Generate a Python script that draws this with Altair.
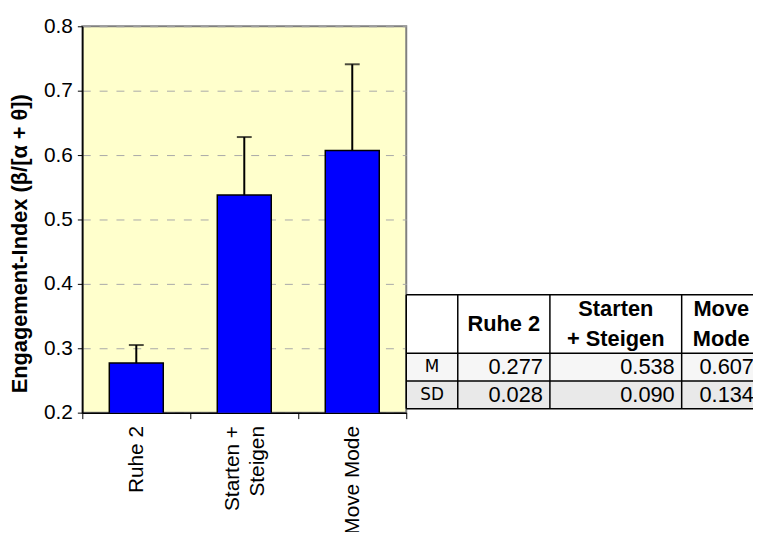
import altair as alt
import pandas as pd

# ---------------- data ----------------
categories = ["Ruhe 2", "Starten + Steigen", "Move Mode"]
means = [0.277, 0.538, 0.607]
sds = [0.028, 0.090, 0.134]
y_ticks = [0.2, 0.3, 0.4, 0.5, 0.6, 0.7, 0.8]

table_headers = [[], ["Ruhe 2"], ["Starten", "+ Steigen"], ["Move", "Mode"]]
table_row_labels = ["M", "SD"]
table_m = ["0.277", "0.538", "0.607"]
table_sd = ["0.028", "0.090", "0.134"]

# ---------------- layout (pixels) ----------------
PLOT_W, PLOT_H = 327, 390
COL_W = [52, 93, 133, 80]          # table column widths
ROW_H = [59, 28, 28]               # table row heights
TABLE_TOP = 271                    # table top, measured from plot top
HEAD_LH = 30                       # header line height
TW = sum(COL_W)
FONT = "Liberation Sans"

bars_df = pd.DataFrame({"cat": categories, "mean": means, "sd": sds})

# ---------------- bar chart ----------------
base = alt.Chart(bars_df).transform_calculate(
    upper="datum.mean + datum.sd"
).encode(
    x=alt.X(
        "cat:N",
        sort=categories,
        scale=alt.Scale(paddingInner=0, paddingOuter=0),
        axis=alt.Axis(
            title=None,
            labelAngle=-90,
            labelAlign="right",
            labelBaseline="middle",
            labelFont=FONT,
            labelFontSize=21,
            labelColor="black",
            labelPadding=7,
            labelLineHeight=25,
            labelExpr="datum.value == 'Starten + Steigen' ? ['Starten +', 'Steigen'] : datum.value",
            labelOffset={"condition": {"test": "datum.value == 'Starten + Steigen'", "value": -12}, "value": 0},
            tickBand="extent",
            tickSize=6,
            tickColor="black",
            domainColor="black",
            domainWidth=1.5,
        ),
    )
)

yscale = alt.Scale(domain=[0.2, 0.8], nice=False, zero=False)

bars = base.mark_bar(
    width=alt.RelativeBandSize(0.5), fill="#0000FF", stroke="black", strokeWidth=1.5,
    clip=True,
).encode(
    y=alt.Y(
        "mean:Q",
        scale=yscale,
        axis=alt.Axis(
            values=y_ticks,
            format=".1f",
            title="Engagement-Index (β/[α + θ])",
            titleFont=FONT,
            titleFontSize=22,
            titleFontWeight="bold",
            titleColor="black",
            titleBaseline="alphabetic",
            titleX=-56,
            titleY=219,
            labelFont=FONT,
            labelFontSize=21,
            labelColor="black",
            labelPadding=5,
            tickSize=5,
            tickColor="black",
            domainColor="black",
            domainWidth=1.5,
            grid=True,
            gridColor="#A8A8A8",
            gridDash=[8, 9],
            gridWidth=1,
        ),
    )
)

err = base.mark_rule(color="black", strokeWidth=2).encode(
    y=alt.Y("mean:Q", scale=yscale), y2="upper:Q"
)
cap = base.mark_tick(color="black", thickness=2, size=15).encode(
    y=alt.Y("upper:Q", scale=yscale)
)

bar_chart = alt.layer(bars, err, cap)

# ---------------- table ----------------
col_edges = [0]
for w in COL_W:
    col_edges.append(col_edges[-1] + w)
row_edges = [TABLE_TOP]
for h in ROW_H:
    row_edges.append(row_edges[-1] + h)

row_fills = ["#FFFFFF", "#F6F6F6", "#E9E9E9"]
cells = []
for r in range(3):
    for c in range(4):
        cells.append({
            "x0": col_edges[c], "x1": col_edges[c + 1],
            "y0": row_edges[r], "y1": row_edges[r + 1],
            "fill": row_fills[r],
        })
cells_df = pd.DataFrame(cells)

lines = []
for yv in row_edges:
    lines.append({"x0": 0, "x1": TW, "y0": yv, "y1": yv})
for xv in col_edges[:-1]:
    lines.append({"x0": xv, "x1": xv, "y0": row_edges[0], "y1": row_edges[-1]})
lines_df = pd.DataFrame(lines)

head = []
hc = (row_edges[0] + row_edges[1]) / 2
for c, parts in enumerate(table_headers):
    n = len(parts)
    for i, p in enumerate(parts):
        head.append({
            "x": (col_edges[c] + col_edges[c + 1]) / 2,
            "y": hc + (i - (n - 1) / 2) * HEAD_LH,
            "t": p,
        })
header_df = pd.DataFrame(head)

label_df = pd.DataFrame({
    "x": [(col_edges[0] + col_edges[1]) / 2] * 2,
    "y": [(row_edges[1] + row_edges[2]) / 2, (row_edges[2] + row_edges[3]) / 2],
    "t": table_row_labels,
})
vals = []
for r, rowvals in enumerate([table_m, table_sd]):
    for c, v in enumerate(rowvals):
        vals.append({
            "x": col_edges[c + 2],
            "y": (row_edges[r + 1] + row_edges[r + 2]) / 2,
            "t": v,
        })
vals_df = pd.DataFrame(vals)

tx = alt.Scale(domain=[0, TW], range=[PLOT_W, PLOT_W + TW], nice=False, zero=False)
ty = alt.Scale(domain=[0, PLOT_H], range=[0, PLOT_H], nice=False, zero=False)

t_cells = alt.Chart(cells_df).mark_rect(strokeWidth=0).encode(
    x=alt.X("x0:Q", scale=tx, axis=None), x2="x1:Q",
    y=alt.Y("y0:Q", scale=ty, axis=None), y2="y1:Q",
    fill=alt.Fill("fill:N", scale=None),
)
t_lines = alt.Chart(lines_df).mark_rule(color="black", strokeWidth=1.5).encode(
    x=alt.X("x0:Q", scale=tx, axis=None), x2="x1:Q",
    y=alt.Y("y0:Q", scale=ty, axis=None), y2="y1:Q",
)
t_head = alt.Chart(header_df).mark_text(
    font=FONT, fontSize=22, fontWeight="bold", color="black",
    baseline="middle", align="center",
).encode(
    x=alt.X("x:Q", scale=tx, axis=None),
    y=alt.Y("y:Q", scale=ty, axis=None),
    text="t:N",
)
t_lab = alt.Chart(label_df).mark_text(
    font="DejaVu Sans", fontSize=17, color="black", baseline="middle", align="center",
).encode(
    x=alt.X("x:Q", scale=tx, axis=None),
    y=alt.Y("y:Q", scale=ty, axis=None),
    text="t:N",
)
t_vals = alt.Chart(vals_df).mark_text(
    font=FONT, fontSize=22, color="black", baseline="middle", align="right", dx=-7,
).encode(
    x=alt.X("x:Q", scale=tx, axis=None),
    y=alt.Y("y:Q", scale=ty, axis=None),
    text="t:N",
)

table = alt.layer(t_cells, t_lines, t_head, t_lab, t_vals)

chart = alt.layer(bar_chart, table).resolve_scale(
    x="independent", y="independent"
).resolve_axis(x="independent", y="independent").properties(
    width=PLOT_W,
    height=PLOT_H,
    autosize=alt.AutoSizeParams(type="none"),
    padding={"left": 75, "top": 16, "right": 752 - 75 - PLOT_W, "bottom": 524 - 16 - PLOT_H},
    background="white",
).configure_view(
    fill="#FFFFCC", stroke="#808080", strokeWidth=2
)

chart.save("out.html", embed_options={"renderer": "svg", "actions": False})
